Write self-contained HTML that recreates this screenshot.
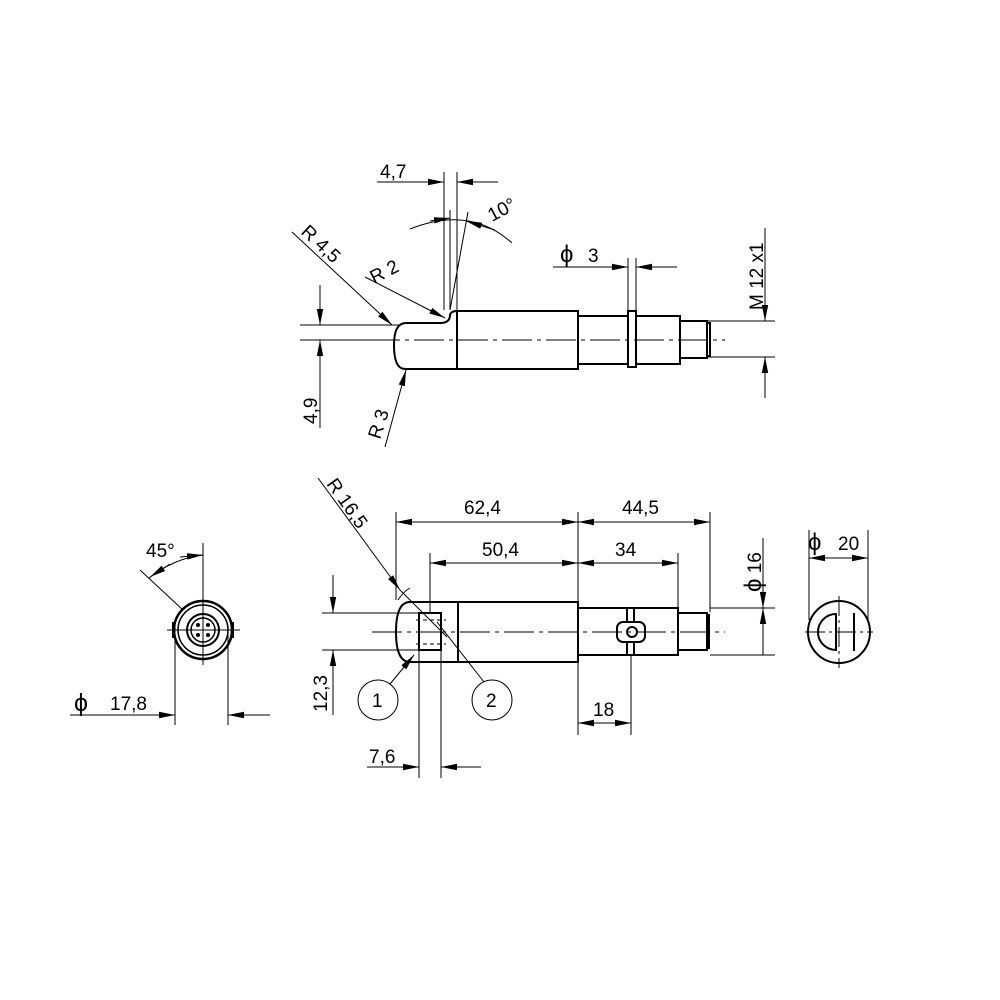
<!DOCTYPE html>
<html><head><meta charset="utf-8"><style>
html,body{margin:0;padding:0;background:#fff}
svg{display:block}
text{font-family:"Liberation Sans",sans-serif;font-size:19px;fill:#000}
</style></head><body>
<svg width="1000" height="1000" viewBox="0 0 1000 1000" xmlns="http://www.w3.org/2000/svg">
<defs>
<marker id="a" viewBox="0 0 10 4" refX="10" refY="2" markerWidth="16" markerHeight="7" markerUnits="userSpaceOnUse" orient="auto-start-reverse"><path d="M0,0L10,2L0,4z" fill="#000"/></marker>
</defs>
<g fill="none" stroke="#000" stroke-width="1">
<!-- ===== TOP VIEW ===== -->
<g stroke-width="2">
<path d="M457,311 H578 V369 H405 Q394,369 394,345 Q394,323 406,323 H440 Q450,323 450,315 Q451,311 457,311 Z"/>
<line x1="457" y1="311" x2="457" y2="369"/>
<path d="M578,316 H628 M636,316 H680 V364 H636 M628,364 H578"/>
<rect x="628" y="311" width="8" height="56"/>
<path d="M680,321 H707 V358 H680 M707,323 H710 V356 H707"/>
</g>
<line x1="370" y1="340" x2="725" y2="340" stroke-dasharray="30,5,4,5"/>
<line x1="300" y1="325" x2="400" y2="325"/>
<line x1="300" y1="340" x2="370" y2="340"/>
<line x1="320" y1="285" x2="320" y2="325" marker-end="url(#a)"/>
<line x1="320" y1="428" x2="320" y2="340" marker-end="url(#a)"/>
<line x1="444" y1="172" x2="444" y2="310"/>
<line x1="457" y1="172" x2="457" y2="310"/>
<line x1="377" y1="182" x2="444" y2="182" marker-end="url(#a)"/>
<line x1="498" y1="182" x2="457" y2="182" marker-end="url(#a)"/>
<line x1="450" y1="210" x2="450" y2="310"/>
<line x1="468" y1="212" x2="450" y2="310"/>
<path d="M410,229 Q470,205 512,243"/>
<line x1="430" y1="221" x2="450" y2="218" marker-end="url(#a)"/>
<line x1="495" y1="230" x2="466" y2="221" marker-end="url(#a)"/>
<line x1="292" y1="232" x2="392" y2="325" marker-end="url(#a)"/>
<line x1="365" y1="277" x2="445" y2="318" marker-end="url(#a)"/>
<line x1="385" y1="447" x2="406" y2="370" marker-end="url(#a)"/>
<line x1="628" y1="258" x2="628" y2="311"/>
<line x1="636" y1="258" x2="636" y2="311"/>
<line x1="553" y1="267" x2="628" y2="267" marker-end="url(#a)"/>
<line x1="677" y1="267" x2="636" y2="267" marker-end="url(#a)"/>
<line x1="707" y1="321" x2="775" y2="321"/>
<line x1="707" y1="357" x2="775" y2="357"/>
<line x1="765" y1="228" x2="765" y2="321" marker-end="url(#a)"/>
<line x1="765" y1="398" x2="765" y2="357" marker-end="url(#a)"/>

<!-- ===== BOTTOM VIEW ===== -->
<g stroke-width="2">
<path d="M578,602 H410 Q396,602 396,632 Q396,662 410,662 H578 Z"/>
<line x1="458" y1="602" x2="458" y2="662"/>
<rect x="419" y="613" width="22" height="37"/>
<path d="M578,608 H678 V655 H578"/>
<path d="M678,613 H707 V650 H678 M707,615 H709 V648 H707"/>
<line x1="627" y1="608" x2="627" y2="655"/>
<line x1="634" y1="608" x2="634" y2="655"/>
<rect x="617" y="622" width="28" height="20" rx="6" fill="#fff"/>
<circle cx="632" cy="632" r="5"/>
</g>
<line x1="372" y1="632" x2="725" y2="632" stroke-dasharray="30,5,4,5"/>
<line x1="416" y1="620" x2="446" y2="620" stroke-dasharray="4,3"/>
<line x1="416" y1="644" x2="446" y2="644" stroke-dasharray="4,3"/>
<line x1="396" y1="512" x2="396" y2="600"/>
<line x1="430" y1="553" x2="430" y2="612"/>
<line x1="578" y1="512" x2="578" y2="735"/>
<line x1="678" y1="553" x2="678" y2="607"/>
<line x1="710" y1="512" x2="710" y2="612"/>
<line x1="396" y1="522" x2="578" y2="522" marker-start="url(#a)" marker-end="url(#a)"/>
<line x1="578" y1="522" x2="710" y2="522" marker-start="url(#a)" marker-end="url(#a)"/>
<line x1="430" y1="563" x2="578" y2="563" marker-start="url(#a)" marker-end="url(#a)"/>
<line x1="578" y1="563" x2="678" y2="563" marker-start="url(#a)" marker-end="url(#a)"/>
<line x1="710" y1="608" x2="775" y2="608"/>
<line x1="710" y1="655" x2="775" y2="655"/>
<line x1="763" y1="538" x2="763" y2="608" marker-end="url(#a)"/>
<line x1="763" y1="655" x2="763" y2="608" marker-end="url(#a)"/>
<line x1="631" y1="655" x2="631" y2="735"/>
<line x1="578" y1="723" x2="631" y2="723" marker-start="url(#a)" marker-end="url(#a)"/>
<line x1="419" y1="650" x2="419" y2="778"/>
<line x1="441" y1="650" x2="441" y2="778"/>
<line x1="367" y1="767" x2="419" y2="767" marker-end="url(#a)"/>
<line x1="481" y1="767" x2="441" y2="767" marker-end="url(#a)"/>
<line x1="322" y1="613" x2="420" y2="613"/>
<line x1="322" y1="650" x2="420" y2="650"/>
<line x1="333" y1="575" x2="333" y2="613" marker-end="url(#a)"/>
<line x1="333" y1="715" x2="333" y2="650" marker-end="url(#a)"/>
<line x1="318" y1="478" x2="400" y2="590" marker-end="url(#a)"/>
<line x1="400" y1="590" x2="447" y2="637"/>
<path d="M398,600 Q403,592 410,588"/>
<circle cx="378" cy="700" r="20"/>
<circle cx="492" cy="700" r="20"/>
<line x1="390" y1="684" x2="414" y2="655" marker-end="url(#a)"/>
<line x1="484" y1="682" x2="437" y2="622"/>
<g stroke-width="2">
<circle cx="839" cy="632" r="31"/>
<path d="M836,614 A18,18 0 0 0 836,650 Z"/>
<line x1="854" y1="613" x2="854" y2="651"/>
</g>
<line x1="805" y1="632" x2="873" y2="632" stroke-dasharray="20,4,3,4"/>
<line x1="839" y1="596" x2="839" y2="668" stroke-dasharray="20,4,3,4"/>
<line x1="809" y1="530" x2="809" y2="620"/>
<line x1="868" y1="530" x2="868" y2="620"/>
<line x1="830" y1="558" x2="809" y2="558" marker-end="url(#a)"/>
<line x1="848" y1="558" x2="868" y2="558" marker-end="url(#a)"/>
<line x1="830" y1="558" x2="848" y2="558"/>

<!-- ===== CONNECTOR VIEW ===== -->
<g stroke-width="2">
<circle cx="203" cy="630" r="29" stroke-width="2.5"/>
<circle cx="203" cy="630" r="25" stroke-width="1.5"/>
<circle cx="203" cy="630" r="16"/>
<circle cx="203" cy="630" r="12" stroke-width="1.5"/>
<line x1="173" y1="622" x2="173" y2="638"/>
<line x1="233" y1="622" x2="233" y2="638"/>
</g>
<g fill="#000" stroke="none"><circle cx="198" cy="625" r="2"/><circle cx="208" cy="625" r="2"/><circle cx="198" cy="635" r="2"/><circle cx="208" cy="635" r="2"/></g>
<line x1="203" y1="543" x2="203" y2="665"/>
<line x1="167" y1="630" x2="240" y2="630"/>
<line x1="140" y1="570" x2="183" y2="610"/>
<path d="M149,578 Q175,558 203,555"/>
<line x1="170" y1="564" x2="150" y2="577" marker-end="url(#a)"/>
<line x1="180" y1="557" x2="203" y2="555" marker-end="url(#a)"/>
<line x1="175" y1="625" x2="175" y2="725"/>
<line x1="228" y1="625" x2="228" y2="725"/>
<line x1="70" y1="715" x2="175" y2="715" marker-end="url(#a)"/>
<line x1="270" y1="715" x2="228" y2="715" marker-end="url(#a)"/>
</g>

<text x="380" y="178">4,7</text>
<text x="0" y="0" transform="translate(492,222) rotate(-28)">10°</text>
<text x="0" y="0" transform="translate(300,233) rotate(43)">R 4,5</text>
<text x="0" y="0" transform="translate(374,284) rotate(-27)">R 2</text>
<text x="0" y="0" transform="translate(380,440) rotate(-72)">R 3</text>
<text x="0" y="0" transform="translate(317,424) rotate(-90)">4,9</text>
<text x="560" y="262" style="font-size:24px">ϕ</text><text x="588" y="262">3</text>
<text x="0" y="0" transform="translate(763,310) rotate(-90)">M 12 x1</text>

<text x="0" y="0" transform="translate(326,484) rotate(55)">R 16,5</text>
<text x="464" y="514">62,4</text>
<text x="622" y="514">44,5</text>
<text x="482" y="556">50,4</text>
<text x="615" y="556">34</text>
<text x="0" y="0" transform="translate(761,592) rotate(-90)"><tspan style="font-size:24px">ϕ</tspan> 16</text>
<text x="808" y="550" style="font-size:24px">ϕ</text><text x="838" y="550">20</text>
<text x="593" y="716">18</text>
<text x="369" y="763">7,6</text>
<text x="0" y="0" transform="translate(327,712) rotate(-90)">12,3</text>
<text x="372" y="707">1</text>
<text x="486" y="707">2</text>
<text x="146" y="557">45°</text>
<text x="74" y="711" style="font-size:25px">ϕ</text>
<text x="110" y="710">17,8</text>
</svg>
</body></html>
